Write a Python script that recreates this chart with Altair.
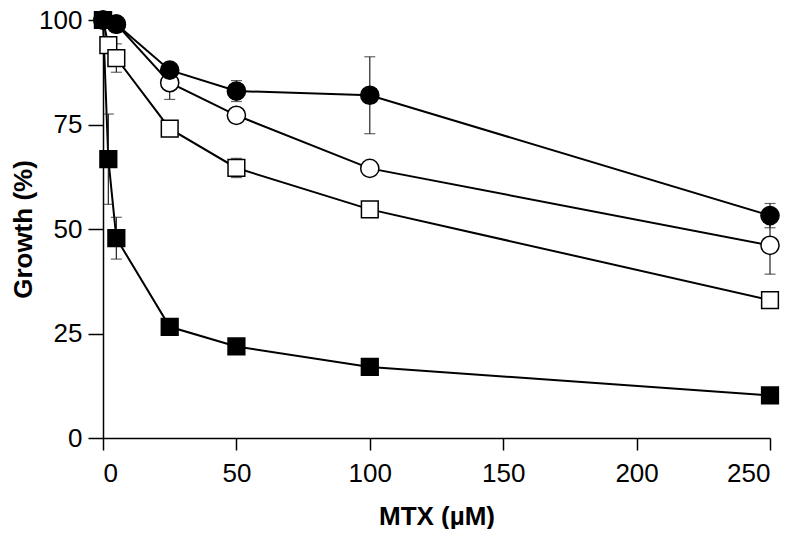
import altair as alt
import pandas as pd

# MTX concentrations (µM) and growth (%) per series
x_fc = [0, 5, 25, 50, 100, 250]
y_fc = [100, 99, 88, 83, 82, 53.2]
e_fc = [0, 0, 1, 2.5, 9.2, 2.9]

x_oc = [0, 5, 25, 50, 100, 250]
y_oc = [100, 99, 85, 77.2, 64.5, 46.1]
e_oc = [0, 0, 4, 1, 1, 6.9]

x_os = [0, 2, 5, 25, 50, 100, 250]
y_os = [100, 94, 90.9, 74, 64.6, 54.7, 33]
e_os = [0, 0, 3.4, 1, 2.3, 1, 1]

x_fs = [0, 2, 5, 25, 50, 100, 250]
y_fs = [100, 66.7, 47.8, 26.6, 21.9, 17, 10.2]
e_fs = [0, 10.8, 5, 1, 1, 1, 1]

x_ticks = [0, 50, 100, 150, 200, 250]
y_ticks = [0, 25, 50, 75, 100]


def frame(name, xs, ys, es):
    return pd.DataFrame({
        "series": name,
        "x": xs,
        "y": ys,
        "lo": [y - e for y, e in zip(ys, es)],
        "hi": [y + e for y, e in zip(ys, es)],
        "e": es,
    })


df_fc = frame("fc", x_fc, y_fc, e_fc)
df_oc = frame("oc", x_oc, y_oc, e_oc)
df_os = frame("os", x_os, y_os, e_os)
df_fs = frame("fs", x_fs, y_fs, e_fs)
df_all = pd.concat([df_fc, df_oc, df_os, df_fs], ignore_index=True)
df_err = df_all[df_all["e"] > 0]

X = alt.X("x:Q", scale=alt.Scale(domain=[0, 250], nice=False),
          axis=alt.Axis(values=x_ticks, title="MTX (µM)", tickSize=12,
                        labelPadding=10, titlePadding=17))
Y = alt.Y("y:Q", scale=alt.Scale(domain=[0, 100], nice=False),
          axis=alt.Axis(values=y_ticks, title="Growth (%)", tickSize=15,
                        labelPadding=6, titlePadding=2))

lines = alt.Chart(df_all).mark_line(color="black", strokeWidth=2).encode(
    x=X, y=Y, detail="series:N", order="x:Q")

err_rule = alt.Chart(df_err).mark_rule(color="#222222", strokeWidth=1.2).encode(
    x="x:Q", y="lo:Q", y2="hi:Q")
err_lo = alt.Chart(df_err).mark_tick(color="#222222", thickness=1.2, size=11,
                                     orient="horizontal").encode(x="x:Q", y="lo:Q")
err_hi = alt.Chart(df_err).mark_tick(color="#222222", thickness=1.2, size=11,
                                     orient="horizontal").encode(x="x:Q", y="hi:Q")


def points(df, shape, filled, size):
    return alt.Chart(df).mark_point(
        shape=shape, size=size, filled=True,
        fill="black" if filled else "white",
        stroke="black", strokeWidth=1.5, opacity=1,
    ).encode(x="x:Q", y="y:Q")


p_os = points(df_os, "square", False, 280)
p_oc = points(df_oc, "circle", False, 330)
p_fc = points(df_fc, "circle", True, 330)
p_fs = points(df_fs, "square", True, 280)

chart = alt.layer(lines, err_rule, err_lo, err_hi, p_os, p_oc, p_fc, p_fs).properties(
    width=667, height=418,
    autosize=alt.AutoSizeParams(type="none"),
    padding={"left": 95, "top": 12, "right": 18, "bottom": 91},
).configure_view(stroke=None).configure_axis(
    grid=False,
    labelFont="Liberation Sans", labelFontSize=26, labelColor="black",
    titleFont="Liberation Sans", titleFontSize=26, titleFontWeight="bold",
    titleColor="black",
    domainColor="black", domainWidth=1.5, tickColor="black", tickWidth=1.5,
)

chart.save("out.html", embed_options={"renderer": "svg", "actions": False})
